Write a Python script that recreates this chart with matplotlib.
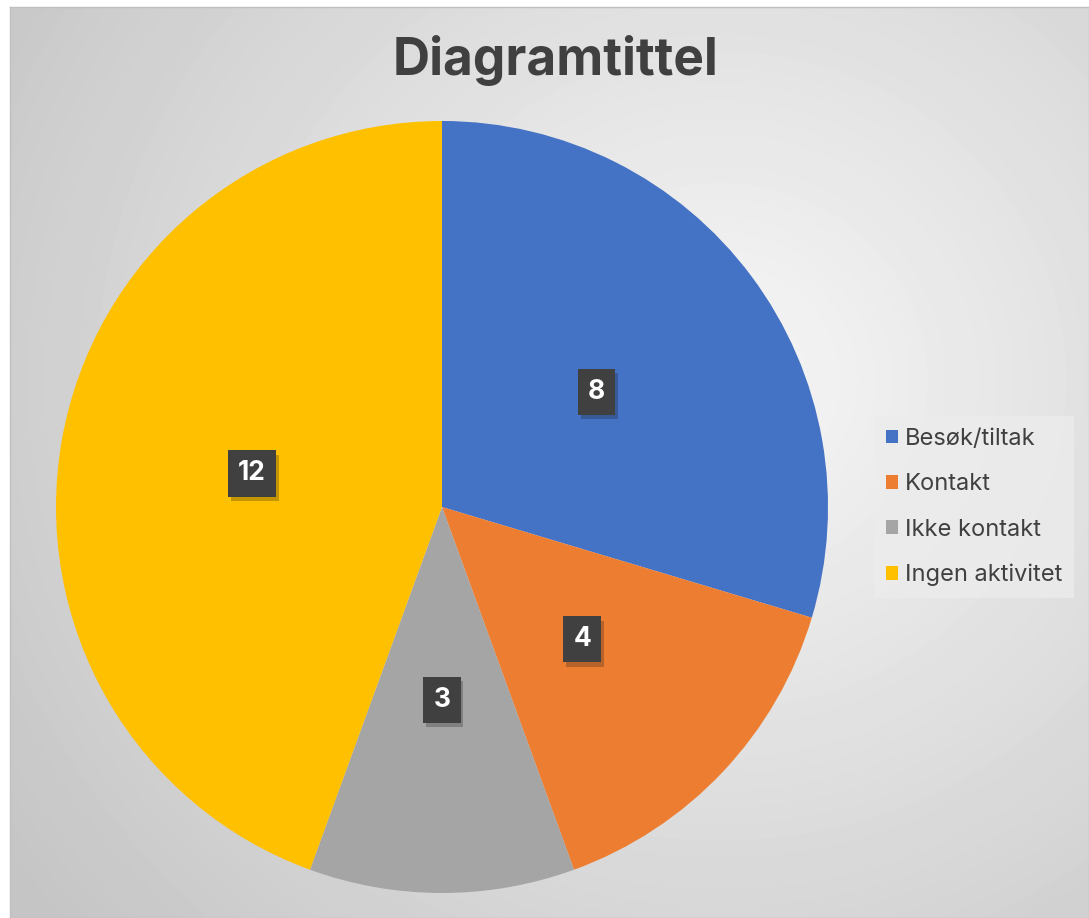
import matplotlib.pyplot as plt
import matplotlib.patheffects as pe
import numpy as np

plt.rcParams['font.family'] = ['Inter', 'DejaVu Sans']

# Data
labels = ['Besøk/tiltak', 'Kontakt', 'Ikke kontakt', 'Ingen aktivitet']
values = [8, 4, 3, 12]
colors = ['#4472C4', '#ED7D31', '#A5A5A5', '#FFC000']

W, H = 1089, 918
fig = plt.figure(figsize=(W / 100, H / 100), dpi=100, facecolor='white')

# Background with radial gradient (chart area)
bg = fig.add_axes([10 / W, 0, 1 - 10 / W, 1 - 7 / H])
yy, xx = np.mgrid[7:H, 10:W]
d = np.sqrt((xx - 720) ** 2 + ((yy - 380) / 0.95) ** 2)
shade = 247 - 50 * np.clip(d / 870, 0, 1)
bg.imshow(shade, cmap='gray', vmin=0, vmax=255, aspect='auto', interpolation='bilinear')
bg.set_xticks([])
bg.set_yticks([])
for s in bg.spines.values():
    s.set_color('#c0c0c0')
    s.set_linewidth(1)

# Pie
ax = fig.add_axes([56 / W, 25 / H, 772 / W, 772 / H])
wedges, texts = ax.pie(values, colors=colors, startangle=90, counterclock=False,
                       labels=[str(v) for v in values], labeldistance=0.5,
                       textprops=dict(color='white', fontsize=19, fontweight='bold',
                                      ha='center', va='center'))
for t in texts:
    t.set_bbox(dict(boxstyle='square,pad=0.38', facecolor='#404040', edgecolor='none'))
    t.get_bbox_patch().set_path_effects([pe.withSimplePatchShadow(offset=(2, -3), alpha=0.25), pe.Normal()])
ax.set_xlim(-1, 1)
ax.set_ylim(-1, 1)
ax.set_aspect('equal')

# Title
fig.text(555 / W, 1 - 61 / H, 'Diagramtittel', ha='center', va='center',
         fontsize=37, fontweight='bold', color='#404040')

# Legend
leg = fig.legend(wedges, labels, loc='upper left', bbox_to_anchor=(874 / W, 1 - 416 / H),
                 fontsize=17, handlelength=0.5, handleheight=0.5, handletextpad=0.3,
                 labelspacing=0.99, frameon=True, fancybox=False, borderpad=0.5,
                 borderaxespad=0)
leg.get_frame().set_facecolor('#ececec')
leg.get_frame().set_edgecolor('none')
leg.get_frame().set_alpha(0.8)
for t in leg.get_texts():
    t.set_color('#404040')

plt.savefig('out.png', dpi=100, facecolor=fig.get_facecolor())
